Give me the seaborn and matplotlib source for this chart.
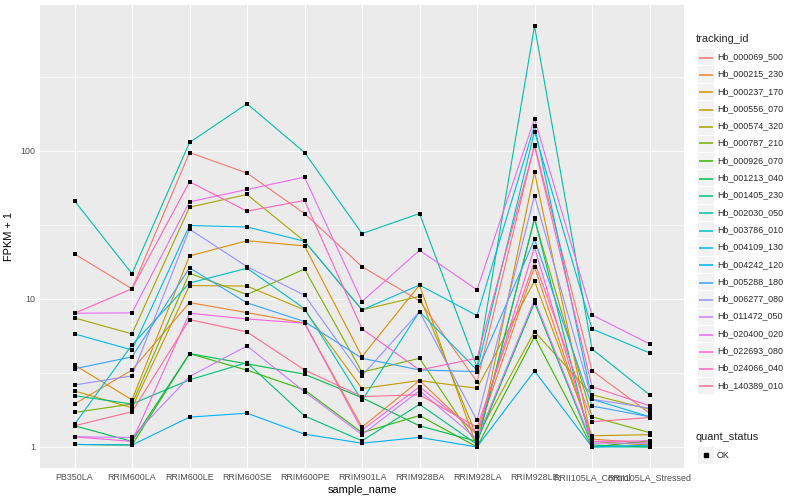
import numpy as np
import pandas as pd
import matplotlib
matplotlib.use("Agg")
import matplotlib.pyplot as plt
import seaborn as sns
from matplotlib.patches import Rectangle
from matplotlib.lines import Line2D

# ---------------- data (FPKM + 1) ----------------
samples = ["PB350LA", "RRIM600LA", "RRIM600LE", "RRIM600SE", "RRIM600PE", "RRIM901LA",
           "RRIM928BA", "RRIM928LA", "RRIM928LE", "RRII105LA_Control", "RRII105LA_Stressed"]

Hb_000069_500 = [20.1, 11.7, 97.4, 70.7, 37.7, 16.5, 9.7, 2.76, 109.8, 3.28, 1.69]
Hb_000215_230 = [1.95, 3.31, 9.44, 8.08, 6.85, 1.36, 2.81, 1.21, 16.4, 1.13, 1.06]
Hb_000237_170 = [3.58, 2.08, 19.5, 24.7, 22.8, 4.07, 12.4, 1.00, 71.6, 1.09, 1.03]
Hb_000556_070 = [2.39, 1.84, 12.3, 12.2, 8.43, 2.48, 2.81, 2.49, 13.2, 1.19, 1.21]
Hb_000574_320 = [7.44, 5.80, 41.6, 50.7, 24.5, 8.43, 10.4, 1.17, 6.01, 2.25, 1.80]
Hb_000787_210 = [1.71, 1.95, 14.9, 10.7, 15.9, 3.20, 3.97, 1.05, 34.6, 1.60, 1.25]
Hb_000926_070 = [1.04, 1.03, 4.27, 3.30, 2.43, 1.25, 1.63, 1.00, 5.56, 1.00, 1.10]
Hb_001213_040 = [1.39, 1.09, 4.27, 3.64, 3.10, 2.15, 1.39, 1.09, 9.44, 1.03, 1.00]
Hb_001405_230 = [2.22, 1.95, 2.84, 3.71, 1.62, 1.10, 1.94, 1.04, 35.1, 1.00, 1.00]
Hb_002030_050 = [45.9, 14.8, 113.8, 208.0, 97.4, 27.6, 37.7, 3.46, 696.0, 4.59, 2.25]
Hb_003786_010 = [1.42, 4.89, 12.8, 16.1, 8.60, 2.06, 8.21, 3.31, 135.0, 6.27, 4.32]
Hb_004109_130 = [5.80, 4.52, 31.3, 30.6, 24.5, 8.43, 12.4, 7.71, 148.0, 2.10, 1.60]
Hb_004242_120 = [1.04, 1.03, 1.59, 1.69, 1.22, 1.06, 1.16, 1.00, 3.26, 1.00, 1.03]
Hb_005288_180 = [3.37, 4.06, 16.2, 9.40, 7.03, 3.97, 3.31, 3.23, 25.2, 1.89, 1.60]
Hb_006277_080 = [2.62, 3.02, 29.6, 16.5, 10.6, 3.03, 8.21, 1.51, 49.6, 2.10, 1.83]
Hb_011472_050 = [1.17, 1.16, 2.99, 4.81, 2.36, 1.21, 2.40, 1.13, 9.84, 1.06, 1.06]
Hb_020400_020 = [8.00, 8.05, 45.2, 54.8, 66.4, 9.59, 21.3, 11.5, 164.6, 7.80, 4.97]
Hb_022693_080 = [1.17, 1.09, 8.00, 7.32, 6.85, 1.30, 2.55, 1.25, 22.3, 1.09, 1.10]
Hb_024066_040 = [8.00, 11.7, 61.8, 39.1, 46.2, 6.27, 3.31, 3.97, 108.0, 2.55, 1.90]
Hb_140389_010 = [1.39, 1.73, 7.25, 5.98, 3.31, 2.19, 2.25, 1.36, 17.9, 1.48, 1.58]

tracking_ids = ["Hb_000069_500", "Hb_000215_230", "Hb_000237_170", "Hb_000556_070",
                "Hb_000574_320", "Hb_000787_210", "Hb_000926_070", "Hb_001213_040",
                "Hb_001405_230", "Hb_002030_050", "Hb_003786_010", "Hb_004109_130",
                "Hb_004242_120", "Hb_005288_180", "Hb_006277_080", "Hb_011472_050",
                "Hb_020400_020", "Hb_022693_080", "Hb_024066_040", "Hb_140389_010"]
series = [Hb_000069_500, Hb_000215_230, Hb_000237_170, Hb_000556_070, Hb_000574_320,
          Hb_000787_210, Hb_000926_070, Hb_001213_040, Hb_001405_230, Hb_002030_050,
          Hb_003786_010, Hb_004109_130, Hb_004242_120, Hb_005288_180, Hb_006277_080,
          Hb_011472_050, Hb_020400_020, Hb_022693_080, Hb_024066_040, Hb_140389_010]
quant_status = ["OK"]

colors = ["#F8766D", "#EA8331", "#D89000", "#C09B00", "#A3A500", "#7CAE00", "#39B600",
          "#00BB4E", "#00BF7D", "#00C1A3", "#00BFC4", "#00BAE0", "#00B0F6", "#35A2FF",
          "#9590FF", "#C77CFF", "#E76BF3", "#FA62DB", "#FF62BC", "#FF6C91"]

rows = []
for tid, vals in zip(tracking_ids, series):
    for s, v in zip(samples, vals):
        rows.append({"tracking_id": tid, "sample_name": s, "fpkm1": v, "quant_status": "OK"})
df = pd.DataFrame(rows)

# ---------------- style ----------------
sns.set_theme(style="darkgrid")
plt.rcParams["font.family"] = ["Liberation Sans", "DejaVu Sans"]

W, H = 800, 500
fig = plt.figure(figsize=(W / 100, H / 100), dpi=100)
fig.patch.set_facecolor("white")
L, R, T, B = 40, 684, 5, 468
ax = fig.add_axes([L / W, 1 - B / H, (R - L) / W, (B - T) / H])
ax.set_facecolor("#EBEBEB")

sns.lineplot(data=df, x="sample_name", y="fpkm1", hue="tracking_id",
             hue_order=tracking_ids, palette=colors, sort=False, estimator=None,
             linewidth=0.8, legend=False, ax=ax, zorder=2)
sns.scatterplot(data=df, x="sample_name", y="fpkm1", color="black", marker="s",
                s=6, linewidth=0, legend=False, ax=ax, zorder=3)

ax.set_yscale("log")
lo = np.log10(df["fpkm1"].min())
hi = np.log10(df["fpkm1"].max())
pad = 0.05 * (hi - lo)
ax.set_ylim(10 ** (lo - pad), 10 ** (hi + pad))
ax.set_xlim(-0.6, len(samples) - 0.4)

ax.set_yticks([1, 10, 100])
ax.set_yticklabels(["1", "10", "100"])
ax.set_yticks([10 ** 0.5, 10 ** 1.5, 10 ** 2.5], minor=True)
ax.set_xticks(range(len(samples)))
ax.set_xticklabels(samples)

ax.grid(True, which="major", color="white", linewidth=0.8)
ax.grid(True, which="minor", axis="y", color="white", linewidth=0.4)
ax.set_axisbelow(True)
for sp in ax.spines.values():
    sp.set_visible(False)
ax.tick_params(axis="both", which="major", length=2.0, width=0.5, color="#333333",
               labelsize=6.4, labelcolor="#4D4D4D", pad=1.6)
ax.tick_params(axis="both", which="minor", length=0)
ax.set_xlabel("sample_name", fontsize=7.9, color="black", labelpad=2)
ax.set_ylabel("FPKM + 1", fontsize=7.9, color="black", labelpad=4)

# ---------------- legend (ggplot style, drawn manually) ----------------
def fx(x):
    return x / W

def fy(y):
    return 1 - y / H

fig.text(fx(696), fy(39), "tracking_id", fontsize=7.9, va="center", ha="left")
key = 17.3
y0 = 56.7
for i, (tid, c) in enumerate(zip(tracking_ids, colors)):
    cy = y0 + i * key
    fig.add_artist(Rectangle((fx(697), fy(cy + key / 2)), key / W, key / H,
                             transform=fig.transFigure, facecolor="#F2F2F2",
                             edgecolor="white", linewidth=0.6, zorder=1))
    ly = round(cy) + 0.5
    fig.add_artist(Line2D([fx(698.5), fx(712.5)], [fy(ly), fy(ly)],
                          transform=fig.transFigure, color=c, linewidth=1.1,
                          zorder=3, solid_capstyle="butt"))
    fig.text(fx(717), fy(cy), tid, fontsize=6.4, va="center", ha="left")

fig.text(fx(696), fy(437), "quant_status", fontsize=7.9, va="center", ha="left")
cy = 455
fig.add_artist(Rectangle((fx(697), fy(cy + key / 2)), key / W, key / H,
                         transform=fig.transFigure, facecolor="#F2F2F2",
                         edgecolor="white", linewidth=0.6, zorder=1))
fig.add_artist(Line2D([fx(705.6)], [fy(cy)], transform=fig.transFigure, color="black",
                      marker="s", markersize=2.6, linestyle="none", zorder=3))
fig.text(fx(717), fy(cy), quant_status[0], fontsize=6.4, va="center", ha="left")

fig.savefig("out.png", dpi=100)
